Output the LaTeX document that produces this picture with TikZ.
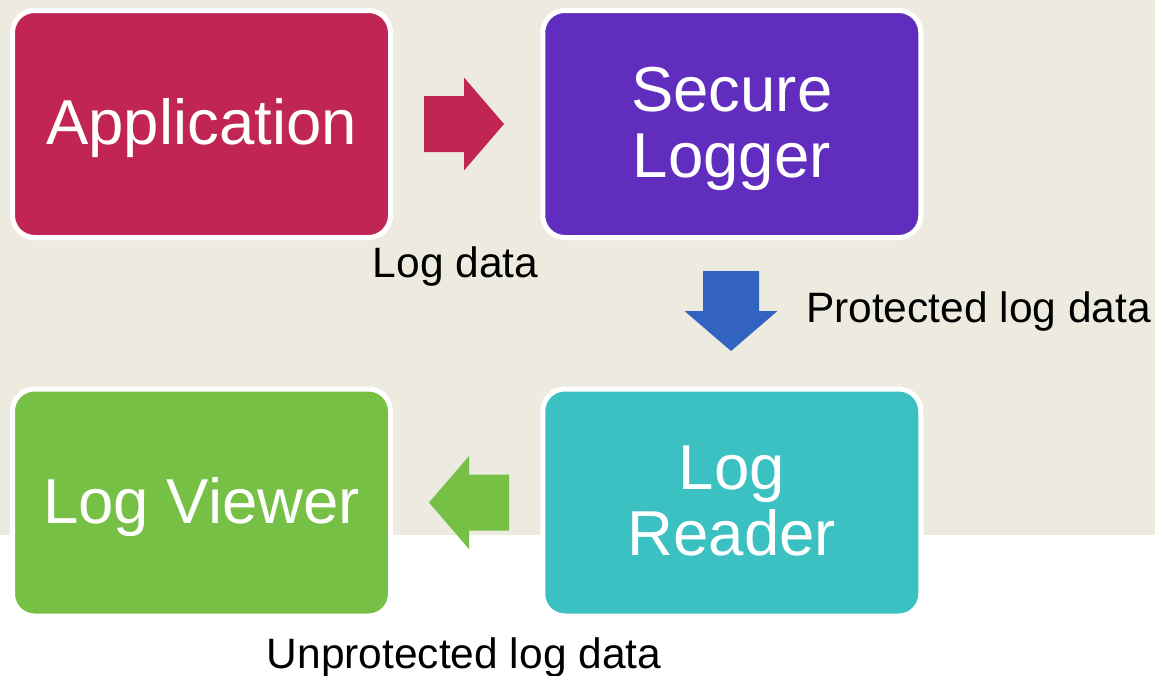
\documentclass[tikz,border=0pt]{standalone}
\usepackage{fontspec}
\setmainfont{Liberation Sans}
\usetikzlibrary{calc}

\definecolor{bgbeige}{RGB}{237,235,224}
\definecolor{appred}{RGB}{193,37,83}
\definecolor{secpurple}{RGB}{97,45,190}
\definecolor{readteal}{RGB}{59,193,193}
\definecolor{viewgreen}{RGB}{118,192,69}
\definecolor{flowblue}{RGB}{51,99,192}

\tikzset{
  stagebox/.style={rectangle, rounded corners=22pt, draw=white, line width=5pt,
    minimum width=378pt, minimum height=227pt, inner sep=0pt},
  stagetext/.style={anchor=base, text=white, inner sep=0pt,
    font=\fontsize{63.5}{66}\selectfont},
  flowlabel/.style={anchor=base, text=black, inner sep=0pt,
    font=\fontsize{42.5}{48}\selectfont},
}

\begin{document}
\begin{tikzpicture}[x=1pt,y=-1pt]
\useasboundingbox (0,0) rectangle (1155,675);

% backdrop: beige band above, white strip below
\fill[bgbeige] (0,0) rectangle (1155,535);
\fill[white] (0,535) rectangle (1155,675);

% the four stages
\node[stagebox, fill=appred]    (app)  at (201.5,124)   {};
\node[stagebox, fill=secpurple] (sec)  at (731.75,124)  {};
\node[stagebox, fill=viewgreen] (view) at (201.5,502.5) {};
\node[stagebox, fill=readteal]  (read) at (731.75,502.5) {};

% stage names
\node[stagetext] (apptxt)   at ($(app.center)+(0,20)$)    {Application};
\node[stagetext] (sectxt1)  at ($(sec.center)+(0,-12.5)$) {Secure};
\node[stagetext] (sectxt2)  at ($(sec.center)+(0,53.5)$)  {Logger};
\node[stagetext] (readtxt1) at ($(read.center)+(0,-13)$)  {Log};
\node[stagetext] (readtxt2) at ($(read.center)+(0,53)$)   {Reader};
\node[stagetext] (viewtxt)  at ($(view.center)+(0,20.5)$) {Log Viewer};

% block arrows between the stages
\fill[appred] (424,96) -- (464,96) -- (464,77.5) -- (504,124)
  -- (464,170.5) -- (464,152) -- (424,152) -- cycle;
\fill[flowblue] (703,271) -- (759,271) -- (759,311) -- (777.5,311)
  -- (731,351) -- (684.5,311) -- (703,311) -- cycle;
\fill[viewgreen] (509,474.5) -- (469,474.5) -- (469,456) -- (429,502.5)
  -- (469,549) -- (469,530.5) -- (509,530.5) -- cycle;

% flow labels
\node[flowlabel] (lbl1) at (455.5,277) {Log data};
\node[flowlabel] (lbl2) at (978.5,322) {Protected log data};
\node[flowlabel] (lbl3) at (464,668)   {Unprotected log data};
\end{tikzpicture}
\end{document}
